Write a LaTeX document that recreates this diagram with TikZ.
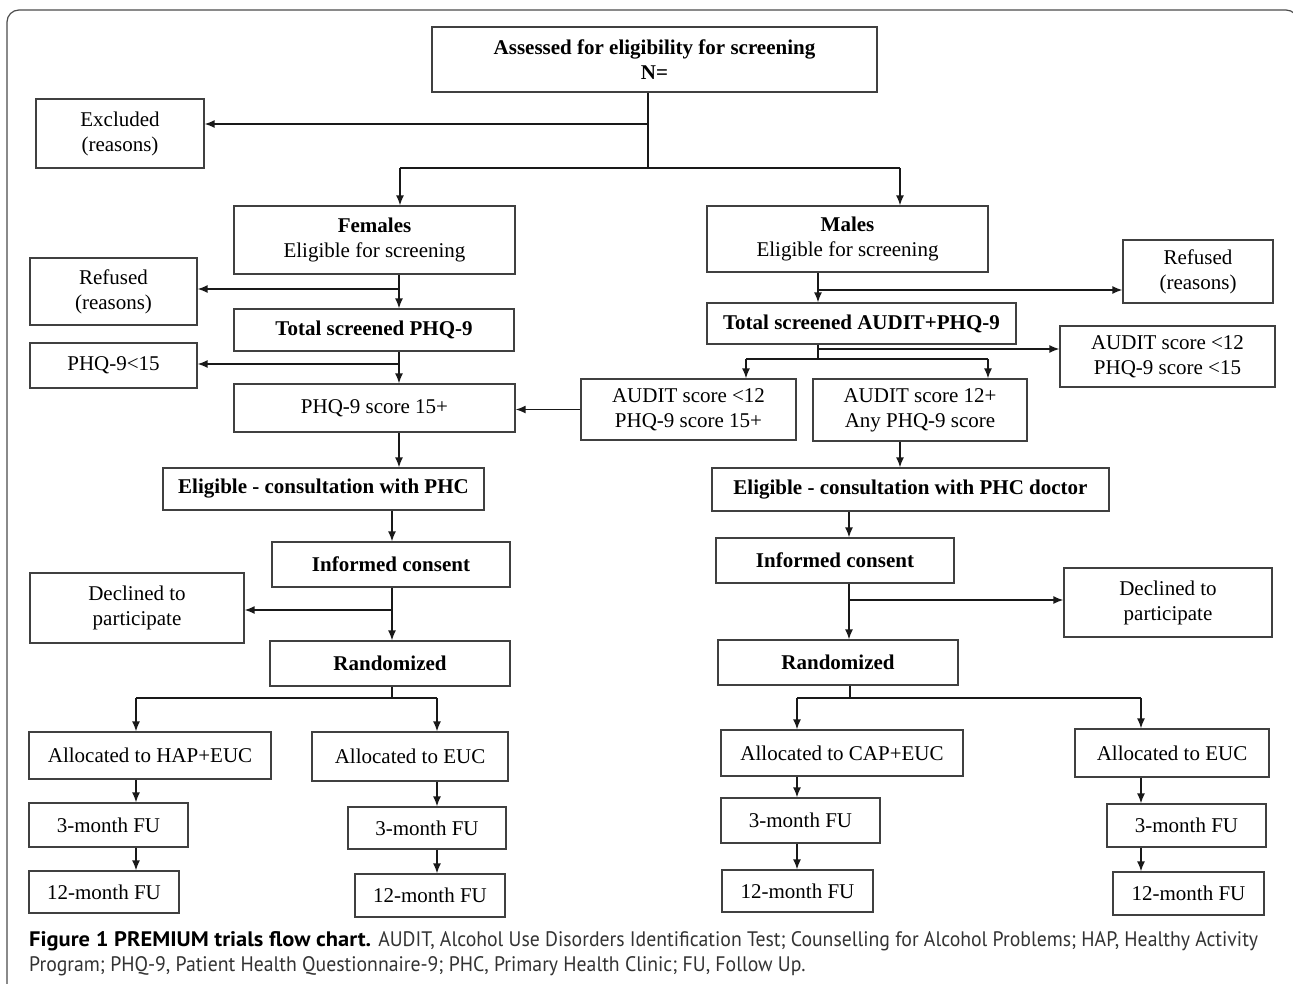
\documentclass[tikz,border=0pt]{standalone}
\usepackage{fontspec}
\setmainfont{Liberation Serif}
\newfontfamily\capfont[FakeStretch=0.94,BoldFeatures={FakeStretch=1.07}]{PT Sans}
\usepackage{tikz}
\usetikzlibrary{arrows.meta}
\tikzset{
  box/.style={draw=black!75,line width=1.3pt,inner sep=0pt,align=center,font=\fontsize{21}{25}\selectfont},
  wh/.style 2 args={minimum width=#1pt,minimum height=#2pt},
  arr/.style={-{Latex[length=10pt,width=8pt]},line width=1.5pt,black!90},
  ln/.style={line width=1.5pt,black!90},
  captxt/.style={anchor=west,inner sep=0pt,font=\capfont\fontsize{21}{25}\selectfont,text=black!80}
}

\begin{document}
\begin{tikzpicture}[x=1pt,y=-1pt]
                      \useasboundingbox (0,0) rectangle (1293,983);
                      \fill[white] (0,0) rectangle (1293,983);
                      \begin{scope}
                        \clip (0,0) rectangle (1293,983);
                        \draw[black!70,line width=1.2pt,rounded corners=12pt] (7,1000) -- (7,10) -- (1298,10) -- (1298,1000);
                      \end{scope}
                      % top
                      \node[box,wh={445}{65}] (as) at (654.5,59.5) {\textbf{Assessed for eligibility for screening}\\\textbf{N=}};
                      \node[box,wh={168}{69}] (ex) at (120,133.5) {Excluded\\(reasons)};
                      \node[box,wh={281}{68}] (fe) at (374.5,240) {\textbf{Females}\\Eligible for screening};
                      \node[box,wh={281}{66}] (ma) at (847.5,239) {\textbf{Males}\\Eligible for screening};
                      % females
                      \node[box,wh={167}{67}] (rl) at (113.5,291.5) {Refused\\(reasons)};
                      \node[box,wh={280}{42}] (tp) at (374,330) {\textbf{Total screened PHQ-9}};
                      \node[box,wh={167}{45}] (pl) at (113.5,365.5) {PHQ-9{<}15};
                      \node[box,wh={281}{48}] (pf) at (374.5,408) {PHQ-9 score 15+};
                      \node[box,wh={321}{42}] (el) at (323.5,489) {\textbf{Eligible - consultation with PHC}};
                      \node[box,wh={238}{45}] (il) at (391,564.5) {\textbf{Informed consent}};
                      \node[box,wh={214}{70}] (dl) at (137,608) {Declined to\\participate};
                      \node[box,wh={240}{45}] (rdl) at (390,663.5) {\textbf{Randomized}};
                      \node[box,wh={242}{47}] (ah) at (150,755.5) {Allocated to HAP+EUC};
                      \node[box,wh={196}{49}] (ael) at (410,756.5) {Allocated to EUC};
                      \node[box,wh={159}{44}] (tl1) at (108.5,825) {3-month FU};
                      \node[box,wh={150}{42}] (yl1) at (104,892) {12-month FU};
                      \node[box,wh={158}{42}] (tl2) at (427,828) {3-month FU};
                      \node[box,wh={150}{43}] (yl2) at (430,895.5) {12-month FU};
                      % males
                      \node[box,wh={150}{63}] (rr) at (1198,271.5) {Refused\\(reasons)};
                      \node[box,wh={309}{41}] (ta) at (861.5,323.5) {\textbf{Total screened AUDIT+PHQ-9}};
                      \node[box,wh={215}{61}] (an) at (1167.5,356.5) {AUDIT score {<}12\\PHQ-9 score {<}15};
                      \node[box,wh={215}{61}] (ap) at (688.5,409.5) {AUDIT score {<}12\\PHQ-9 score 15+};
                      \node[box,wh={214}{62}] (aa) at (920,410) {AUDIT score 12+\\Any PHQ-9 score};
                      \node[box,wh={397}{43}] (er) at (910.5,489.5) {\textbf{Eligible - consultation with PHC doctor}};
                      \node[box,wh={238}{45}] (ir) at (835,560.5) {\textbf{Informed consent}};
                      \node[box,wh={208}{69}] (dr) at (1168,602.5) {Declined to\\participate};
                      \node[box,wh={240}{45}] (rdr) at (838,662.5) {\textbf{Randomized}};
                      \node[box,wh={242}{46}] (ac) at (842,753) {Allocated to CAP+EUC};
                      \node[box,wh={194}{48}] (aer) at (1172,753) {Allocated to EUC};
                      \node[box,wh={159}{45}] (tr1) at (800.5,820.5) {3-month FU};
                      \node[box,wh={151}{42}] (yr1) at (797.5,891) {12-month FU};
                      \node[box,wh={159}{43}] (tr2) at (1186.5,825.5) {3-month FU};
                      \node[box,wh={151}{43}] (yr2) at (1188.5,893.5) {12-month FU};
                      % connectors
                      \coordinate (s0) at (648,124);
                      \coordinate (s1) at (648,168);
                      \coordinate (bl) at (400,168);
                      \coordinate (br) at (900,168);
                      \draw[ln] (s1 |- as.south) -- (s1);
                      \draw[arr] (s0) -- (s0 -| ex.east);
                      \draw[ln] (bl) -- (br);
                      \draw[arr] (bl) -- (bl |- fe.north);
                      \draw[arr] (br) -- (br |- ma.north);
                      \coordinate (fL) at (399,289);
                      \coordinate (pL) at (399,364);
                      \draw[arr] (fL |- fe.south) -- (fL |- tp.north);
                      \draw[arr] (fL) -- (fL -| rl.east);
                      \draw[arr] (pL |- tp.south) -- (pL |- pf.north);
                      \draw[arr] (pL) -- (pL -| pl.east);
                      \draw[arr] (ap.west) -- (ap.west -| pf.east);
                      \draw[arr] (pL |- pf.south) -- (pL |- el.north);
                      \coordinate (iL) at (392,610);
                      \draw[arr] (iL |- el.south) -- (iL |- il.north);
                      \draw[arr] (iL |- il.south) -- (iL |- rdl.north);
                      \draw[arr] (iL) -- (iL -| dl.east);
                      \coordinate (rL) at (392,698);
                      \coordinate (rLa) at (136,698);
                      \coordinate (rLb) at (437,698);
                      \draw[ln] (rL |- rdl.south) -- (rL);
                      \draw[ln] (rLa) -- (rLb);
                      \draw[arr] (rLa) -- (rLa |- ah.north);
                      \draw[arr] (rLb) -- (rLb |- ael.north);
                      \draw[arr] (rLa |- ah.south) -- (rLa |- tl1.north);
                      \draw[arr] (rLa |- tl1.south) -- (rLa |- yl1.north);
                      \draw[arr] (rLb |- ael.south) -- (rLb |- tl2.north);
                      \draw[arr] (rLb |- tl2.south) -- (rLb |- yl2.north);
                      \coordinate (mR) at (818,290);
                      \draw[arr] (mR |- ma.south) -- (mR |- ta.north);
                      \draw[arr] (mR) -- (mR -| rr.west);
                      \coordinate (tR) at (818,349);
                      \coordinate (tS) at (818,359);
                      \coordinate (tA) at (746,359);
                      \coordinate (tB) at (988,359);
                      \draw[ln] (tR |- ta.south) -- (tS);
                      \draw[arr] (tR) -- (tR -| an.west);
                      \draw[ln] (tA) -- (tB);
                      \draw[arr] (tA) -- (tA |- ap.north);
                      \draw[arr] (tB) -- (tB |- aa.north);
                      \coordinate (xR) at (900,450);
                      \draw[arr] (xR |- aa.south) -- (xR |- er.north);
                      \coordinate (iR) at (849,600);
                      \draw[arr] (iR |- er.south) -- (iR |- ir.north);
                      \draw[arr] (iR |- ir.south) -- (iR |- rdr.north);
                      \draw[arr] (iR) -- (iR -| dr.west);
                      \coordinate (rR) at (850,698);
                      \coordinate (rRa) at (797,698);
                      \coordinate (rRb) at (1141,698);
                      \draw[ln] (rR |- rdr.south) -- (rR);
                      \draw[ln] (rRa) -- (rRb);
                      \draw[arr] (rRa) -- (rRa |- ac.north);
                      \draw[arr] (rRb) -- (rRb |- aer.north);
                      \draw[arr] (rRa |- ac.south) -- (rRa |- tr1.north);
                      \draw[arr] (rRa |- tr1.south) -- (rRa |- yr1.north);
                      \draw[arr] (rRb |- aer.south) -- (rRb |- tr2.north);
                      \draw[arr] (rRb |- tr2.south) -- (rRb |- yr2.north);
                      % caption
                      \node[captxt] (c1) at (29,941) {\textbf{\color{black}Figure 1 PREMIUM trials flow chart.} AUDIT, Alcohol Use Disorders Identification Test; Counselling for Alcohol Problems; HAP, Healthy Activity};
                      \node[captxt] (c2) at (29,966) {Program; PHQ-9, Patient Health Questionnaire-9; PHC, Primary Health Clinic; FU, Follow Up.};
                  \end{tikzpicture}
\end{document}
